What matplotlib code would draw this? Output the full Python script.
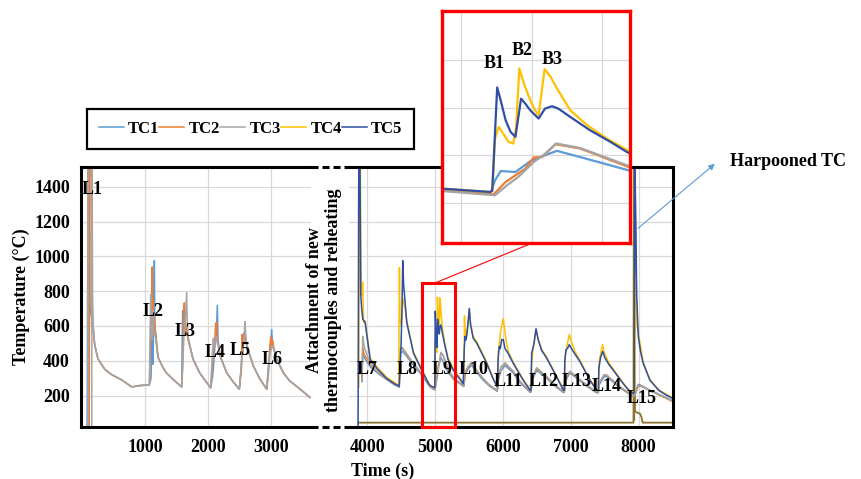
import matplotlib
matplotlib.use("Agg")
import matplotlib.pyplot as plt
from matplotlib.lines import Line2D
from matplotlib.patches import ConnectionPatch, Rectangle

plt.rcParams["font.family"] = ["Liberation Serif", "DejaVu Serif"]
plt.rcParams["font.weight"] = "bold"
plt.rcParams["axes.labelweight"] = "bold"
plt.rcParams["font.size"] = 13

# ---- data: first heating (left panel) ----
tc1_left_t = [80, 92, 100, 108, 115, 125, 172, 200, 252, 360, 463, 630, 788, 920, 1068,
              1095, 1110, 1125, 1135, 1148, 1155, 1170, 1206, 1280, 1338, 1450, 1583,
              1592, 1599, 1605, 1615, 1630, 1650, 1683, 1763, 1869, 1950, 2044,
              2070, 2086, 2110, 2130, 2150, 2160, 2175, 2193, 2299, 2400, 2500,
              2535, 2548, 2560, 2575, 2590, 2610, 2643, 2722, 2820, 2935,
              2965, 2980, 2995, 3015, 3025, 3045, 3094, 3200, 3300, 3413, 3625]
tc1_left_T = [20, 1530, 1530, 820, 1150, 700, 605, 488, 410, 351, 322, 290, 250, 258, 262,
              300, 620, 380, 560, 975, 580, 560, 420, 365, 331, 292, 250,
              560, 688, 490, 600, 560, 600, 527, 410, 331, 290, 245,
              300, 351, 480, 520, 718, 530, 480, 429, 331, 280, 237,
              380, 500, 470, 560, 540, 500, 459, 371, 300, 237,
              331, 420, 480, 580, 500, 470, 410, 331, 285, 253, 190]

tc2_left_t = [88, 92, 112, 119, 130, 145, 150, 172, 200, 252, 360, 463, 630, 788, 920, 1068,
              1085, 1100, 1115, 1122, 1130, 1140, 1150, 1165, 1206, 1280, 1338, 1450, 1583,
              1600, 1612, 1625, 1632, 1645, 1665, 1683, 1763, 1869, 1950, 2044,
              2075, 2095, 2110, 2124, 2140, 2155, 2193, 2299, 2400, 2500,
              2532, 2543, 2552, 2565, 2580, 2600, 2643, 2722, 2820, 2935,
              2970, 2985, 2999, 3010, 3030, 3050, 3094, 3200, 3300, 3413, 3625]
tc2_left_T = [20, 820, 20, 1530, 1530, 1530, 600, 605, 488, 410, 351, 322, 290, 250, 258, 262,
              450, 700, 939, 560, 760, 600, 650, 560, 420, 365, 331, 292, 250,
              380, 600, 733, 560, 620, 560, 527, 410, 331, 290, 245,
              400, 480, 530, 616, 620, 500, 429, 331, 280, 237,
              350, 551, 440, 520, 560, 520, 459, 371, 300, 237,
              400, 480, 537, 490, 520, 470, 410, 331, 285, 253, 190]

tc3_left_t = [85, 92, 96, 152, 156, 166, 180, 200, 252, 360, 463, 630, 788, 920, 1068,
              1078, 1090, 1096, 1105, 1115, 1130, 1140, 1165, 1206, 1280, 1338, 1450, 1583,
              1605, 1620, 1640, 1662, 1672, 1690, 1763, 1869, 1950, 2044,
              2070, 2086, 2100, 2120, 2140, 2165, 2193, 2299, 2400, 2500,
              2540, 2555, 2570, 2590, 2600, 2615, 2643, 2722, 2820, 2935,
              2975, 3000, 3030, 3045, 3094, 3200, 3300, 3413, 3625]
tc3_left_T = [20, 1530, 20, 20, 1530, 750, 560, 488, 410, 351, 322, 290, 250, 258, 262,
              500, 782, 560, 600, 520, 690, 560, 540, 420, 365, 331, 292, 250,
              420, 560, 620, 792, 620, 530, 410, 331, 290, 245,
              440, 527, 480, 510, 540, 500, 429, 331, 280, 237,
              420, 480, 500, 625, 560, 500, 459, 371, 300, 237,
              420, 460, 488, 470, 410, 331, 285, 253, 190]

# ---- data: after attachment of new thermocouples (right panel) ----
tc1_right_t = [3920, 3930, 3950, 4041, 4163, 4286, 4400, 4469, 4480, 4521, 4580, 4679, 4776,
               4902, 4922, 4991, 4998, 5006, 5027, 5048, 5062, 5086, 5119, 5188, 5267, 5414,
               5425, 5440, 5480, 5538, 5600, 5700, 5800, 5916, 5930, 5970, 6030, 6152, 6250,
               6398, 6413, 6430, 6497, 6645, 6750, 6890, 6904, 6920, 6988, 7136, 7250, 7382,
               7406, 7420, 7490, 7530, 7726, 7922, 7945, 7970, 7996, 8021, 8168, 8500]
tc1_right_T = [280, 440, 420, 365, 325, 292, 262, 248, 440, 455, 425, 375, 330,
               262, 252, 236, 294, 333, 329, 374, 392, 418, 392, 336, 295, 255,
               255, 320, 350, 375, 340, 292, 255, 225, 290, 345, 372, 330, 275,
               220, 220, 290, 345, 300, 260, 218, 218, 285, 330, 285, 250, 216,
               216, 262, 308, 310, 244, 195, 200, 230, 265, 262, 232, 172]

tc2_right_t = [3920, 3930, 3950, 4041, 4163, 4286, 4400, 4469, 4480, 4521, 4580, 4679, 4776,
               4902, 4922, 4996, 5013, 5029, 5041, 5053, 5065, 5084, 5119, 5188, 5267, 5414,
               5425, 5440, 5480, 5538, 5600, 5700, 5800, 5916, 5930, 5970, 6030, 6152, 6250,
               6398, 6413, 6430, 6497, 6645, 6750, 6890, 6904, 6920, 6988, 7136, 7250, 7382,
               7406, 7420, 7490, 7530, 7726, 7922, 7940, 7960, 7996, 8030, 8168, 8500]
tc2_right_T = [290, 473, 440, 376, 330, 295, 265, 250, 463, 473, 434, 385, 337,
               268, 252, 235, 287, 319, 343, 390, 392, 446, 428, 350, 300, 255,
               260, 330, 360, 389, 350, 300, 260, 228, 300, 360, 385, 337, 280,
               222, 222, 300, 356, 307, 265, 222, 222, 290, 337, 290, 255, 220,
               220, 270, 317, 317, 249, 195, 200, 240, 255, 258, 229, 167]

tc3_right_t = [3920, 3930, 3945, 3960, 4041, 4163, 4286, 4400, 4469, 4480, 4500, 4521, 4580,
               4679, 4776, 4902, 4922, 4998, 5015, 5031, 5053, 5067, 5085, 5119, 5188, 5267,
               5414, 5425, 5440, 5480, 5538, 5600, 5700, 5800, 5916, 5930, 5970, 6030, 6152,
               6250, 6398, 6413, 6430, 6497, 6645, 6750, 6890, 6904, 6920, 6988, 7136, 7250,
               7382, 7406, 7420, 7490, 7530, 7726, 7922, 7950, 7996, 8030, 8168, 8500]
tc3_right_T = [295, 541, 500, 470, 385, 330, 297, 266, 252, 463, 480, 470, 440,
               385, 337, 270, 249, 231, 273, 308, 371, 400, 449, 430, 355, 305,
               258, 262, 335, 365, 392, 352, 302, 262, 230, 305, 365, 388, 340,
               283, 224, 224, 305, 360, 310, 268, 224, 224, 295, 340, 292, 257,
               222, 222, 275, 320, 318, 252, 198, 205, 252, 255, 230, 170]

tc4_right_t = [3875, 3880, 3895, 3906, 3915, 3930, 3944, 3966, 4041, 4163, 4286, 4400, 4463,
               4466, 4472, 4480, 4500, 4521, 4556, 4580, 4679, 4826, 4902, 4922, 4991,
               4994, 4998, 5003, 5008, 5017, 5024, 5028, 5032.5, 5039, 5048, 5055, 5060,
               5068.5, 5077, 5086, 5105, 5129, 5157, 5188, 5267, 5414,
               5425, 5432, 5440, 5450, 5465, 5480, 5503, 5520, 5560, 5612, 5760, 5850, 5916,
               5930, 5965, 6004, 6043, 6080, 6152, 6299, 6398,
               6413, 6420, 6440, 6460, 6487, 6520, 6570, 6645, 6792, 6890,
               6904, 6915, 6940, 6978, 7000, 7060, 7136, 7283, 7382,
               7406, 7420, 7440, 7471, 7490, 7560, 7627, 7775, 7857, 7922,
               7945, 7960, 7980, 8069, 8168, 8300, 8500]
tc4_right_T = [250, 1530, 1530, 902, 776, 850, 620, 630, 415, 355, 305, 275, 260,
               610, 936, 640, 600, 760, 700, 630, 450, 332, 272, 259, 245,
               250, 470, 519, 498, 456, 449, 519, 765, 702, 631, 589, 568,
               762, 730, 681, 589, 526, 470, 418, 355, 272,
               330, 658, 520, 580, 540, 600, 690, 620, 540, 510, 392, 305, 252,
               444, 571, 643, 522, 450, 392, 293, 235,
               235, 370, 460, 500, 580, 525, 465, 420, 312, 235,
               235, 420, 480, 551, 520, 455, 402, 292, 235,
               235, 400, 440, 493, 450, 390, 352, 272, 232, 218,
               225, 900, 600, 390, 292, 232, 188]

tc5_right_t = [3862, 3872, 3890, 3901, 3915, 3931, 3966, 4041, 4163, 4286, 4400, 4469,
               4478, 4495, 4510, 4521, 4535, 4556, 4580, 4679, 4826, 4902, 4922, 4991,
               4994, 5001, 5006, 5013, 5020, 5027, 5035, 5041, 5048, 5060, 5069, 5079,
               5088, 5105, 5133, 5162, 5188, 5267, 5414,
               5428, 5440, 5455, 5475, 5503, 5520, 5560, 5612, 5760, 5850, 5916,
               5930, 5945, 5960, 5981, 6004, 6030, 6080, 6152, 6299, 6398,
               6413, 6423, 6440, 6457, 6487, 6520, 6570, 6645, 6792, 6890,
               6904, 6912, 6929, 6950, 6978, 7010, 7060, 7136, 7283, 7382,
               7406, 7415, 7440, 7471, 7500, 7560, 7627, 7775, 7857, 7922,
               7935, 7945, 7960, 7972, 7996, 8030, 8069, 8168, 8300, 8400, 8500]
tc5_right_T = [30, 1530, 1530, 785, 700, 639, 620, 405, 346, 298, 268, 255,
               330, 480, 700, 975, 830, 737, 620, 444, 327, 270, 259, 245,
               250, 685, 631, 547, 498, 477, 638, 617, 589, 554, 596, 606,
               596, 561, 505, 456, 409, 346, 268,
               470, 540, 520, 580, 701, 610, 530, 502, 385, 300, 250,
               420, 483, 470, 522, 522, 470, 440, 385, 288, 232,
               230, 444, 470, 502, 584, 520, 460, 415, 307, 232,
               230, 400, 463, 470, 493, 470, 440, 395, 288, 232,
               230, 360, 420, 454, 420, 380, 346, 268, 230, 214,
               220, 1530, 1200, 776, 541, 450, 385, 288, 230, 205, 185]

harpoon_t = [3866, 7925, 7930, 7935, 7940, 7946, 7981, 8021, 8046, 8061, 8508]
harpoon_T = [45, 45, 1530, 60, 1390, 110, 102, 97, 73, 45, 45]

series_names = ["TC1", "TC2", "TC3", "TC4", "TC5"]
line_colors = ["#5B9BD5", "#ED7D31", "#A5A5A5", "#FFC000", "#2E4FA3"]

left_labels = ["L1", "L2", "L3", "L4", "L5", "L6"]
left_label_t = [156, 1131, 1636, 2113, 2511, 3015]
left_label_T = [1381, 682, 567, 447, 462, 405]
right_labels = ["L7", "L8", "L9", "L10", "L11", "L12", "L13", "L14", "L15"]
right_label_t = [3990, 4580, 5096, 5562, 6078, 6594, 7087, 7530, 8046]
right_label_T = [348, 348, 348, 348, 280, 280, 280, 252, 185]
burst_labels = ["B1", "B2", "B3"]
burst_t = [4996, 5036, 5079]
burst_T = [786, 842, 803]

temp_ticks = [200, 400, 600, 800, 1000, 1200, 1400]
left_time_ticks = [1000, 2000, 3000]
right_time_ticks = [4000, 5000, 6000, 7000, 8000]

W, H = 861, 479
fig = plt.figure(figsize=(W / 100, H / 100), dpi=100)


def px_box(x0, y0, x1, y1):
    return [x0 / W, 1 - y1 / H, (x1 - x0) / W, (y1 - y0) / H]


ax_l = fig.add_axes(px_box(81, 167, 311, 427))
ax_r = fig.add_axes(px_box(349, 167, 673, 427))
ax_in = fig.add_axes(px_box(442, 11, 630, 243))

left_data = [(tc1_left_t, tc1_left_T), (tc2_left_t, tc2_left_T), (tc3_left_t, tc3_left_T)]
right_data = [(tc1_right_t, tc1_right_T), (tc2_right_t, tc2_right_T), (tc3_right_t, tc3_right_T),
              (tc4_right_t, tc4_right_T), (tc5_right_t, tc5_right_T)]

for (t, T), c in zip(left_data, line_colors):
    ax_l.plot(t, T, color=c, lw=1.1)

ax_r.plot(harpoon_t, harpoon_T, color="#8C7530", lw=1.3)
handles = []
for (t, T), c, name in zip(right_data, line_colors, series_names):
    h, = ax_r.plot(t, T, color=c, lw=1.1, label=name)
    ax_in.plot(t, T, color=c, lw=1.6)
    handles.append(h)

for ax in (ax_l, ax_r, ax_in):
    ax.grid(True, color="#D9D9D9", lw=0.9)
    ax.set_axisbelow(True)
    ax.tick_params(length=0, labelsize=13)

ax_l.set_xlim(-19, 3640)
ax_l.set_ylim(20, 1513)
ax_l.set_xticks(left_time_ticks)
ax_l.set_yticks(temp_ticks)
ax_l.tick_params(axis="x", pad=9)
ax_l.tick_params(axis="y", pad=8)
ax_l.set_ylabel("Temperature (°C)", fontsize=13, fontweight="bold")
ax_l.yaxis.set_label_coords(-0.222, 0.5)
for s in ("left", "top", "bottom"):
    ax_l.spines[s].set_linewidth(2.2)
ax_l.spines["right"].set_visible(False)

ax_r.set_xlim(3728, 8508)
ax_r.set_ylim(20, 1513)
ax_r.set_xticks(right_time_ticks)
ax_r.set_yticks(temp_ticks)
ax_r.tick_params(axis="x", pad=9)
ax_r.tick_params(axis="y", labelleft=False)
for s in ("right", "top", "bottom"):
    ax_r.spines[s].set_linewidth(2.2)
ax_r.spines["left"].set_visible(False)

for ax in (ax_l, ax_r):
    for lbl in ax.get_xticklabels() + ax.get_yticklabels():
        lbl.set_fontweight("bold")

ax_in.set_xlim(4922.5, 5190)
ax_in.set_ylim(30, 1007)
ax_in.set_xticks([4950, 5050, 5150])
ax_in.set_yticks([200, 400, 600, 800])
ax_in.tick_params(labelbottom=False, labelleft=False)
for s in ax_in.spines.values():
    s.set_edgecolor("#FF0000")
    s.set_linewidth(2.4)

for s, t, T in zip(left_labels, left_label_t, left_label_T):
    ax_l.text(t, T, s, ha="center", va="center", fontsize=13, fontweight="bold")
for s, t, T in zip(right_labels, right_label_t, right_label_T):
    ax_r.text(t, T, s, ha="center", va="center", fontsize=13, fontweight="bold")
for s, t, T in zip(burst_labels, burst_t, burst_T):
    ax_in.text(t, T, s, ha="center", va="center", fontsize=13, fontweight="bold")

# dashed break in the frame
for y in (167, 427):
    fig.add_artist(Line2D([311 / W, 349 / W], [1 - y / H] * 2, color="black", lw=2.2,
                          ls=(0, (2.3, 1.3))))

fig.text(324 / W, 1 - 300 / H, "Attachment of new\nthermocouples and reheating",
         rotation=90, ha="center", va="center", multialignment="center", fontsize=13,
         fontweight="bold", linespacing=1.15)

# zoom box and connector
ax_r.add_patch(Rectangle((4801, 20), 491, 827, fill=False, edgecolor="#FF0000", lw=2.2,
                         clip_on=False, zorder=5))
fig.add_artist(ConnectionPatch(xyA=(4997, 847), coordsA=ax_r.transData,
                               xyB=(5051, 30), coordsB=ax_in.transData,
                               color="#FF0000", lw=0.8))

# harpooned TC arrow
ax_r.annotate("", xy=(717 / W, 1 - 162 / H), xycoords="figure fraction",
              xytext=(7962, 1151), textcoords="data",
              arrowprops=dict(arrowstyle="-|>", color="#5B9BD5", lw=0.8, mutation_scale=9))
fig.text(730 / W, 1 - 162 / H, "Harpooned TC", ha="left", va="center", fontsize=13,
         fontweight="bold")

fig.text(383 / W, 1 - 471 / H, "Time (s)", ha="center", va="center", fontsize=13,
         fontweight="bold")

leg = fig.legend(handles, series_names, loc="center", ncol=5, mode="expand",
                 bbox_to_anchor=px_box(87, 108, 414, 150), frameon=True, fancybox=False,
                 edgecolor="black", framealpha=1, handlelength=1.5,
                 handletextpad=0.25, borderpad=0.7, borderaxespad=0,
                 prop={"size": 12, "weight": "bold"})
leg.get_frame().set_linewidth(1.6)

fig.savefig("out.png", dpi=100)
